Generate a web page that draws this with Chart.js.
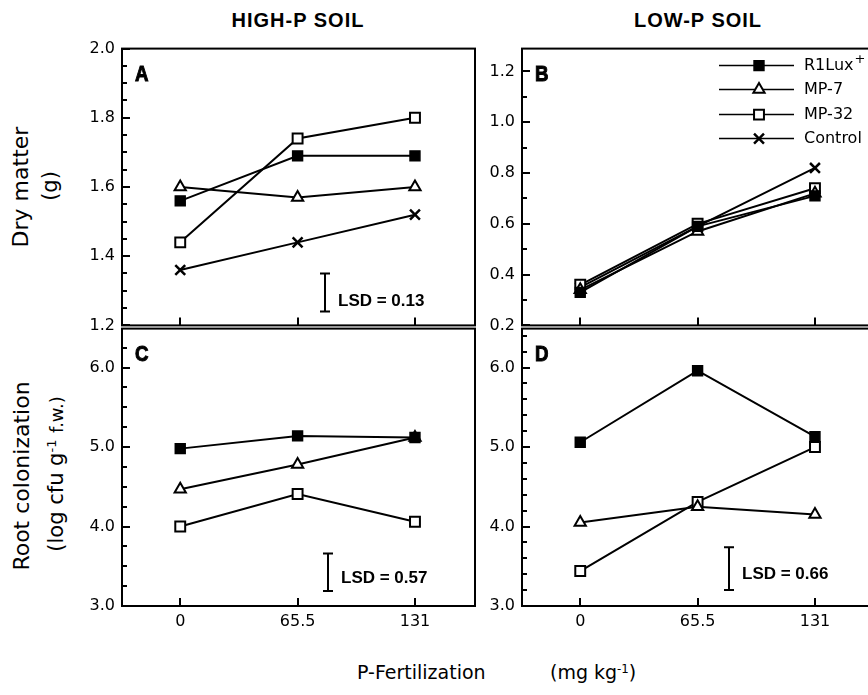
<!DOCTYPE html>
<html><head><meta charset="utf-8">
<script src="https://cdn.jsdelivr.net/npm/chart.js@4"></script>
<style>
html,body{margin:0;padding:0;width:868px;height:695px;overflow:hidden;background:#fff;}
.cv{position:absolute;}
.t{position:absolute;white-space:nowrap;color:#000;line-height:normal;}
.hd{font:bold 20px "Liberation Sans",Arial,sans-serif;letter-spacing:1px;top:9px;width:300px;text-align:center;}
.rot{transform:translate(-50%,-50%) rotate(-90deg);font-family:"DejaVu Sans",sans-serif;}
.xt{font-family:"DejaVu Sans",sans-serif;font-size:19px;top:661px;}
sup{font-size:62%;vertical-align:0.55em;line-height:0;}
</style></head><body>

<div class="t hd" style="left:148px">HIGH-P SOIL</div>
<div class="t hd" style="left:548px">LOW-P SOIL</div>

<div class="t rot" style="left:20px;top:187px;font-size:22px">Dry matter</div>
<div class="t rot" style="left:50px;top:186px;font-size:21px">(g)</div>
<div class="t rot" style="left:21px;top:476px;font-size:22px">Root colonization</div>
<div class="t rot" style="left:56px;top:474px;font-size:21px">(log cfu g<sup>-1</sup> <span style="font-size:18px">f.w.)</span></div>

<div class="t xt" style="left:357px">P-Fertilization</div>
<div class="t xt" style="left:550px">(mg kg<sup>-1</sup>)</div>

<div class="cv" style="left:60px;top:32px"><canvas id="cA" width="425" height="310"></canvas></div>
<div class="cv" style="left:460px;top:32px"><canvas id="cB" width="425" height="310"></canvas></div>
<div class="cv" style="left:60px;top:312px"><canvas id="cC" width="425" height="335"></canvas></div>
<div class="cv" style="left:460px;top:312px"><canvas id="cD" width="425" height="335"></canvas></div>

<script>
// ---------------- data ----------------
const doses = [0, 65.5, 131];                       // P-fertilization (mg kg-1)
const seriesLabels = ['R1Lux+', 'MP-7', 'MP-32', 'Control'];

// Dry matter (g), high-P soil (panel A)
const dmHigh_R1Lux = [1.56, 1.69, 1.69];
const dmHigh_MP7   = [1.60, 1.57, 1.60];
const dmHigh_MP32  = [1.44, 1.74, 1.80];
const dmHigh_Ctrl  = [1.36, 1.44, 1.52];

// Dry matter (g), low-P soil (panel B)
const dmLow_R1Lux = [0.33, 0.59, 0.71];
const dmLow_MP7   = [0.34, 0.57, 0.72];
const dmLow_MP32  = [0.36, 0.60, 0.74];
const dmLow_Ctrl  = [0.35, 0.59, 0.82];

// Root colonization (log cfu g-1 f.w.), high-P soil (panel C)
const rcHigh_R1Lux = [4.98, 5.14, 5.12];
const rcHigh_MP7   = [4.47, 4.78, 5.12];
const rcHigh_MP32  = [4.00, 4.41, 4.06];

// Root colonization, low-P soil (panel D)
const rcLow_R1Lux = [5.06, 5.96, 5.13];
const rcLow_MP7   = [4.05, 4.25, 4.15];
const rcLow_MP32  = [3.44, 4.31, 5.00];

// tick labels
const xTickValues   = [0, 65.5, 131];
const dmHighTicks   = [1.2, 1.4, 1.6, 1.8, 2.0];
const dmLowTicks    = [0.2, 0.4, 0.6, 0.8, 1.0, 1.2];
const rcTicks       = [3.0, 4.0, 5.0, 6.0];

// LSD values
const lsdA = '0.13';
const lsdC = '0.57';
const lsdD = '0.66';

// ---------------- styling ----------------
const seriesStyle = [
  {pointStyle:'rect', pointRadius:7, pointBackgroundColor:'#000', pointBorderWidth:1.5},
  {pointStyle:'triangle', pointRadius:6.5, pointBackgroundColor:'#fff', pointBorderWidth:2},
  {pointStyle:'rect', pointRadius:7, pointBackgroundColor:'#fff', pointBorderWidth:2},
  {pointStyle:'crossRot', pointRadius:7, pointBackgroundColor:'#000', pointBorderWidth:2.5}
];

function makeDatasets(list){
  return list.map((vals,i)=>Object.assign({
    label: seriesLabels[i],
    data: doses.map((d,j)=>({x:d, y:vals[j]})),
    borderColor:'#000', borderWidth:2, pointBorderColor:'#000',
    fill:false, tension:0, clip:false
  }, seriesStyle[i]));
}

function drawMarker(ctx, st, x, y){
  const r = st.pointRadius;
  ctx.save();
  ctx.lineWidth = st.pointBorderWidth; ctx.strokeStyle = '#000'; ctx.fillStyle = st.pointBackgroundColor;
  ctx.beginPath();
  if (st.pointStyle === 'rect'){
    const s = r*Math.SQRT1_2; ctx.rect(x-s, y-s, 2*s, 2*s); ctx.fill(); ctx.stroke();
  } else if (st.pointStyle === 'triangle'){
    let a = 0;
    ctx.moveTo(x + Math.sin(a)*r, y - Math.cos(a)*r); a += 2*Math.PI/3;
    ctx.lineTo(x + Math.sin(a)*r, y - Math.cos(a)*r); a += 2*Math.PI/3;
    ctx.lineTo(x + Math.sin(a)*r, y - Math.cos(a)*r); ctx.closePath(); ctx.fill(); ctx.stroke();
  } else {
    const o = Math.cos(Math.PI/4)*r;
    ctx.moveTo(x-o,y-o); ctx.lineTo(x+o,y+o); ctx.moveTo(x-o,y+o); ctx.lineTo(x+o,y-o); ctx.stroke();
  }
  ctx.restore();
}

// panel settings, kept outside chart options
const panelCfg = {};

const decor = {
  id:'decor',
  afterDraw(chart){
    const o = panelCfg[chart.canvas.id];
    const ctx = chart.ctx, a = chart.chartArea, xs = chart.scales.x, ys = chart.scales.y;
    ctx.save();
    ctx.strokeStyle = '#000';
    ctx.lineWidth = 2;
    ctx.strokeRect(a.left, a.top, a.right-a.left, a.bottom-a.top);
    // y ticks (inward), major + minor
    ctx.lineWidth = 2;
    const n = Math.round((o.yMax - o.yMin)/o.minor);
    for (let k=0; k<=n; k++){
      const v = o.yMin + k*o.minor;
      if (v > o.yMax + 1e-9) continue;
      const py = Math.round(ys.getPixelForValue(v));
      let major = false;
      for (const t of o.yTicks){ if (Math.abs(t-v) < 1e-6) major = true; }
      ctx.beginPath(); ctx.moveTo(a.left, py); ctx.lineTo(a.left + (major?8:5), py); ctx.stroke();
    }
    // x ticks (inward)
    for (const v of xTickValues){
      const px = Math.round(xs.getPixelForValue(v));
      ctx.beginPath(); ctx.moveTo(px, a.bottom); ctx.lineTo(px, a.bottom-8); ctx.stroke();
    }
    // panel letter
    ctx.save();
    ctx.translate(a.left + 13, a.top + 32);
    ctx.scale(0.85, 1);
    ctx.font = 'bold 22px "Liberation Sans", Arial, sans-serif';
    ctx.fillStyle = '#000'; ctx.lineWidth = 1; ctx.textBaseline = 'alphabetic';
    ctx.fillText(o.letter, 0, 0); ctx.strokeText(o.letter, 0, 0);
    ctx.restore();
    // LSD bar
    if (o.lsd){
      const px = Math.round(xs.getPixelForValue(o.lsd.x));
      const y0 = ys.getPixelForValue(o.lsd.y0), y1 = ys.getPixelForValue(o.lsd.y1);
      ctx.lineWidth = 2;
      ctx.beginPath();
      ctx.moveTo(px, y0); ctx.lineTo(px, y1);
      ctx.moveTo(px-5, y0); ctx.lineTo(px+5, y0);
      ctx.moveTo(px-5, y1); ctx.lineTo(px+5, y1);
      ctx.stroke();
      ctx.font = 'bold 17px "Liberation Sans", Arial, sans-serif';
      ctx.fillStyle = '#000'; ctx.textBaseline = 'middle'; ctx.textAlign = 'left';
      ctx.fillText('LSD = ' + o.lsd.label, px + 13, ys.getPixelForValue(o.lsd.textY));
    }
    // legend
    if (o.legend){
      const rows = [17, 41, 66, 90];
      chart.data.datasets.forEach((ds, i)=>{
        const yy = a.top + rows[i];
        ctx.lineWidth = 1.5;
        ctx.beginPath(); ctx.moveTo(a.left+197, yy); ctx.lineTo(a.left+272, yy); ctx.stroke();
        drawMarker(ctx, ds, a.left+237, yy);
        ctx.font = '16px "DejaVu Sans", sans-serif';
        ctx.fillStyle = '#000'; ctx.textBaseline = 'middle'; ctx.textAlign = 'left';
        let label = ds.label, sup = '';
        if (label.endsWith('+')){ label = label.slice(0,-1); sup = '+'; }
        ctx.fillText(label, a.left+282, yy);
        if (sup){
          const w = ctx.measureText(label).width;
          ctx.font = '13px "DejaVu Sans", sans-serif';
          ctx.fillText(sup, a.left+282+w+1, yy-6);
        }
      });
    }
    ctx.restore();
  }
};

function makePanel(id, lists, p){
  panelCfg[id] = p;
  const tickFont = {family:'DejaVu Sans', size:16};
  new Chart(document.getElementById(id), {
    type:'line',
    data:{datasets: makeDatasets(lists)},
    options:{
      responsive:false, animation:false, events:[],
      layout:{padding:{top:15, right:10, bottom:p.showX?0:15, left:0}},
      plugins:{legend:{display:false}, tooltip:{enabled:false}},
      scales:{
        x:{type:'linear', min:-32.5, max:164.5, display:p.showX,
           grid:{display:false, drawTicks:false}, border:{display:false},
           afterBuildTicks:(s)=>{ s.ticks = xTickValues.map(v=>({value:v})); },
           afterFit:(s)=>{ if (p.showX) s.height = 41; },
           ticks:{font:tickFont, color:'#000', padding:6, maxRotation:0, callback:(v)=>String(v)}},
        y:{type:'linear', min:p.yMin, max:p.yMax,
           grid:{display:false, drawTicks:false}, border:{display:false},
           afterBuildTicks:(s)=>{ s.ticks = p.yTicks.map(v=>({value:v})); },
           afterFit:(s)=>{ s.width = 62; },
           ticks:{font:tickFont, color:'#000', padding:7, callback:(v)=>Number(v).toFixed(1)}}
      }
    },
    plugins:[decor]
  });
}

makePanel('cA', [dmHigh_R1Lux, dmHigh_MP7, dmHigh_MP32, dmHigh_Ctrl],
  {yMin:1.2, yMax:2.0, yTicks:dmHighTicks, minor:0.05, letter:'A', showX:false,
   lsd:{x:81, y0:1.24, y1:1.35, textY:1.27, label:lsdA}});
makePanel('cB', [dmLow_R1Lux, dmLow_MP7, dmLow_MP32, dmLow_Ctrl],
  {yMin:0.2, yMax:1.29, yTicks:dmLowTicks, minor:0.1, letter:'B', showX:false, legend:true});
makePanel('cC', [rcHigh_R1Lux, rcHigh_MP7, rcHigh_MP32],
  {yMin:3.0, yMax:6.49, yTicks:rcTicks, minor:0.25, letter:'C', showX:true,
   lsd:{x:82.5, y0:3.19, y1:3.66, textY:3.35, label:lsdC}});
makePanel('cD', [rcLow_R1Lux, rcLow_MP7, rcLow_MP32],
  {yMin:3.0, yMax:6.49, yTicks:rcTicks, minor:0.2, letter:'D', showX:true,
   lsd:{x:83, y0:3.2, y1:3.74, textY:3.40, label:lsdD}});
</script>
</body></html>
